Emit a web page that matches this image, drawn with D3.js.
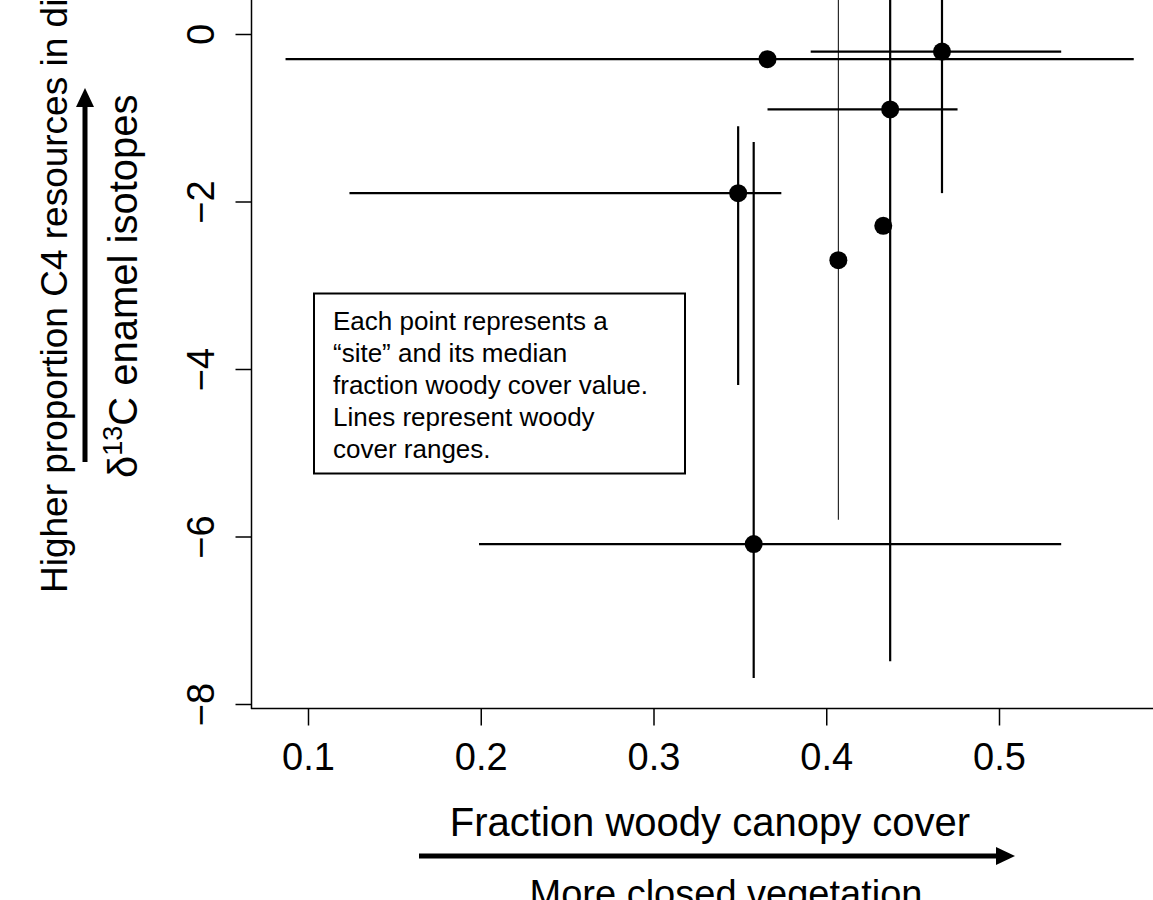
<!DOCTYPE html>
<html>
<head>
<meta charset="utf-8">
<script src="https://cdn.jsdelivr.net/npm/d3@7"></script>
<style>
  body { margin: 0; background: #fff; }
  svg { display: block; font-family: "Liberation Sans", Arial, Helvetica, sans-serif; }
</style>
</head>
<body>
<svg id="chart" width="1153" height="900"></svg>
<script>
// median woody cover and d13C for each site, with ranges
const woodyMedian = [0.366, 0.467, 0.437, 0.433, 0.407, 0.349, 0.358];
const d13C        = [-0.30, -0.21, -0.90, -2.29, -2.70, -1.90, -6.09];
const woodyLow    = [0.087, 0.391, 0.366, null, null, 0.124, 0.199];
const woodyHigh   = [0.578, 0.536, 0.476, null, null, 0.374, 0.536];
const d13CLow     = [null, -1.90, -7.49, null, -5.80, -4.19, -7.69];
const d13CHigh    = [null, 1.00, 1.00, null, 1.00, -1.10, -1.29];

const xTicks = [0.1, 0.2, 0.3, 0.4, 0.5];
const yTicks = [0, -2, -4, -6, -8];
const noteLines = [
  "Each point represents a",
  "\u201csite\u201d and its median",
  "fraction woody cover value.",
  "Lines represent woody",
  "cover ranges."
];

const data = woodyMedian.map((w, i) => ({
  w, c: d13C[i], wLo: woodyLow[i], wHi: woodyHigh[i], cLo: d13CLow[i], cHi: d13CHigh[i], i
}));

const svg = d3.select("#chart");
const frameX = 251.5, frameY = 708.5;

const x = d3.scaleLinear().domain([0.1, 0.5]).range([308, 999]);
const y = d3.scaleLinear().domain([-8, 0]).range([704, 34]);

// === frame (L shape)
svg.append("line").attr("x1", frameX).attr("x2", frameX).attr("y1", 0).attr("y2", frameY + 0.5)
  .attr("stroke", "#000").attr("stroke-width", 1.5);
svg.append("line").attr("x1", frameX - 0.5).attr("x2", 1153).attr("y1", frameY).attr("y2", frameY)
  .attr("stroke", "#000").attr("stroke-width", 1.5);

// === axes
const gx = svg.append("g").attr("transform", `translate(0,${frameY})`)
  .call(d3.axisBottom(x).tickValues(xTicks).tickSize(17).tickSizeOuter(0).tickFormat(d3.format(".1f")));
gx.select(".domain").remove();
gx.selectAll("line").attr("stroke-width", 1.5);
gx.selectAll("text").attr("font-size", 38).attr("font-family", null).attr("fill", "#000")
  .attr("y", 0).attr("dy", null).attr("transform", "translate(0,61)");

const gy = svg.append("g").attr("transform", `translate(${frameX},0)`)
  .call(d3.axisLeft(y).tickValues(yTicks).tickSize(16).tickSizeOuter(0).tickFormat(d3.format("d")));
gy.select(".domain").remove();
gy.selectAll("line").attr("stroke-width", 1.5);
gy.selectAll("text").attr("font-size", 38).attr("font-family", null).attr("fill", "#000")
  .attr("x", null).attr("dy", null)
  .attr("text-anchor", "middle")
  .attr("transform", "translate(-38,0) rotate(-90)");

// === range lines
svg.append("g").selectAll("line")
  .data(data.filter(d => d.wLo !== null))
  .join("line")
    .attr("x1", d => x(d.wLo)).attr("x2", d => x(d.wHi))
    .attr("y1", d => y(d.c)).attr("y2", d => y(d.c))
    .attr("stroke", "#000").attr("stroke-width", 2.2);

svg.append("g").selectAll("line")
  .data(data.filter(d => d.cLo !== null))
  .join("line")
    .attr("x1", d => x(d.w)).attr("x2", d => x(d.w))
    .attr("y1", d => y(d.cLo)).attr("y2", d => y(d.cHi))
    .attr("stroke", "#000").attr("stroke-width", d => d.i === 4 ? 1 : 2.2);

// === points
svg.append("g").selectAll("circle")
  .data(data)
  .join("circle")
    .attr("cx", d => x(d.w))
    .attr("cy", d => y(d.c))
    .attr("r", 9)
    .attr("fill", "#000");

// === note box
svg.append("rect").attr("x", 314).attr("y", 293.5).attr("width", 371).attr("height", 180)
  .attr("fill", "none").attr("stroke", "#000").attr("stroke-width", 2);
svg.append("g").selectAll("text")
  .data(noteLines)
  .join("text")
    .attr("x", 333)
    .attr("y", (d, i) => 330 + i * 32)
    .attr("font-size", 26)
    .text(d => d);

// === x label + arrow
svg.append("text").attr("x", 710).attr("y", 836).attr("text-anchor", "middle")
  .attr("font-size", 40).text("Fraction woody canopy cover");
svg.append("line").attr("x1", 419).attr("x2", 998).attr("y1", 856).attr("y2", 856)
  .attr("stroke", "#000").attr("stroke-width", 5);
svg.append("path").attr("d", "M996,847 L1015,856 L996,865 Z").attr("fill", "#000");
svg.append("text").attr("x", 726).attr("y", 907).attr("text-anchor", "middle")
  .attr("font-size", 38).text("More closed vegetation");

// === y labels + arrow
svg.append("text").attr("transform", "translate(137,478) rotate(-90)")
  .attr("font-size", 40)
  .call(t => {
    t.append("tspan").text("\u03b4");
    t.append("tspan").attr("font-size", 27).attr("dy", -15).text("13");
    t.append("tspan").attr("dy", 15).text("C enamel isotopes");
  });
svg.append("line").attr("x1", 85).attr("x2", 85).attr("y1", 462).attr("y2", 105)
  .attr("stroke", "#000").attr("stroke-width", 5);
svg.append("path").attr("d", "M76,107 L85,88 L94,107 Z").attr("fill", "#000");
svg.append("text").attr("transform", "translate(67,593) rotate(-90)")
  .attr("font-size", 37).text("Higher proportion C4 resources in diet");
</script>
</body>
</html>
